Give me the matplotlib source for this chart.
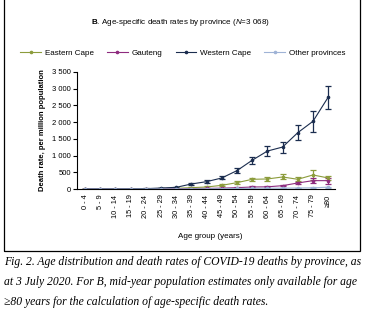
import matplotlib

matplotlib.use("Agg")
import matplotlib.pyplot as plt
from matplotlib.lines import Line2D
from matplotlib.patches import Rectangle
from matplotlib.ticker import FuncFormatter

plt.rcParams["font.family"] = ["Liberation Sans", "DejaVu Sans"]
plt.rcParams["mathtext.fontset"] = "custom"
plt.rcParams["mathtext.rm"] = "Liberation Sans"
plt.rcParams["mathtext.bf"] = "Liberation Sans:bold"
plt.rcParams["mathtext.it"] = "Liberation Sans:italic"

age_groups = ["0 - 4", "5 - 9", "10 - 14", "15 - 19", "20 - 24", "25 - 29", "30 - 34",
              "35 - 39", "40 - 44", "45 - 49", "50 - 54", "55 - 59", "60 - 64",
              "65 - 69", "70 - 74", "75 - 79", "≥80"]

eastern_cape = [1, 1, 2, 3, 5, 10, 20, 40, 60, 110, 190, 290, 300, 360, 290, 420, 330]
eastern_cape_err = [0, 0, 1, 1, 2, 5, 8, 12, 18, 25, 40, 50, 55, 75, 65, 140, 50]
gauteng = [0, 0, 0, 1, 2, 5, 8, 12, 18, 25, 40, 60, 65, 100, 180, 250, 250]
gauteng_err = [0, 0, 0, 0, 1, 2, 3, 5, 6, 8, 12, 15, 18, 25, 40, 65, 90]
western_cape = [2, 3, 3, 5, 10, 30, 50, 150, 220, 330, 550, 860, 1135, 1255, 1685, 2025, 2745]
western_cape_err = [1, 1, 1, 3, 5, 12, 18, 30, 35, 45, 75, 100, 140, 165, 215, 310, 350]
other_provinces = [0, 0, 0, 0, 1, 2, 3, 5, 8, 10, 15, 20, 25, 25, 30, 35, 55]
other_provinces_err = [0, 0, 0, 0, 0, 1, 1, 2, 2, 3, 4, 5, 6, 6, 8, 10, 15]

series = [
    ("Eastern Cape", eastern_cape, eastern_cape_err, "#8c9c3c"),
    ("Gauteng", gauteng, gauteng_err, "#8e2b7e"),
    ("Western Cape", western_cape, western_cape_err, "#1b2d4f"),
    ("Other provinces", other_provinces, other_provinces_err, "#9fb3d6"),
]

fig = plt.figure(figsize=(3.66, 3.12), dpi=100)
ax = fig.add_axes([77 / 366, 1 - 189 / 312, (335 - 77) / 366, (189 - 72) / 312])

x = list(range(len(age_groups)))
handles = []
for name, vals, err, color in series:
    ax.errorbar(x, vals, yerr=err, color=color, lw=0.8, marker="o", ms=1.6,
                elinewidth=0.9, capsize=2.5, capthick=0.9)
    handles.append(Line2D([], [], color=color, lw=0.8, marker="o", ms=1.6))

ax.set_xlim(-0.53, 16.45)
ax.set_ylim(0, 3500)
ax.set_yticks(range(0, 3501, 500))
ax.yaxis.set_major_formatter(FuncFormatter(lambda v, p: f"{int(v):,}".replace(",", " ")))
ax.set_xticks(x)
ax.set_xticklabels(age_groups, rotation=90, fontsize=5.3)
ax.tick_params(axis="y", labelsize=5.5, length=3, width=0.8, pad=1.5)
ax.tick_params(axis="x", length=0, pad=4)
for s in ("top", "right"):
    ax.spines[s].set_visible(False)
for s in ("left", "bottom"):
    ax.spines[s].set_linewidth(0.8)
ax.set_ylabel("Death rate, per million population", fontsize=5.5, fontweight="bold", labelpad=4)
fig.text(210 / 366, 1 - 236 / 312, "Age group (years)", fontsize=5.8, ha="center", va="center")

fig.text(180 / 366, 1 - 23 / 312,
         r"$\mathbf{B}$. Age-specific death rates by province ($\mathit{N}$=3 068)",
         fontsize=5.8, ha="center", va="center")

fig.legend(handles=handles, labels=[s[0] for s in series], loc="center",
           bbox_to_anchor=(183 / 366, 1 - 53 / 312), ncol=4, frameon=False,
           fontsize=5.8, handlelength=2.6, handletextpad=0.5, columnspacing=1.6)

fig.patches.append(Rectangle((4 / 366, 1 - 251 / 312), 356 / 366, 251 / 312 + 0.02,
                             transform=fig.transFigure, fill=False, lw=0.9, ec="black"))

caption = [
    "Fig. 2. Age distribution and death rates of COVID-19 deaths by province, as",
    "at 3 July 2020. For B, mid-year population estimates only available for age",
    "≥80 years for the calculation of age-specific death rates.",
]
for i, line in enumerate(caption):
    fig.text(4 / 366, 1 - (262 + 20 * i) / 312, line, family=["Liberation Serif", "DejaVu Serif"],
             style="italic", fontsize=8.4, ha="left", va="center")

fig.savefig("out.png", dpi=100)
